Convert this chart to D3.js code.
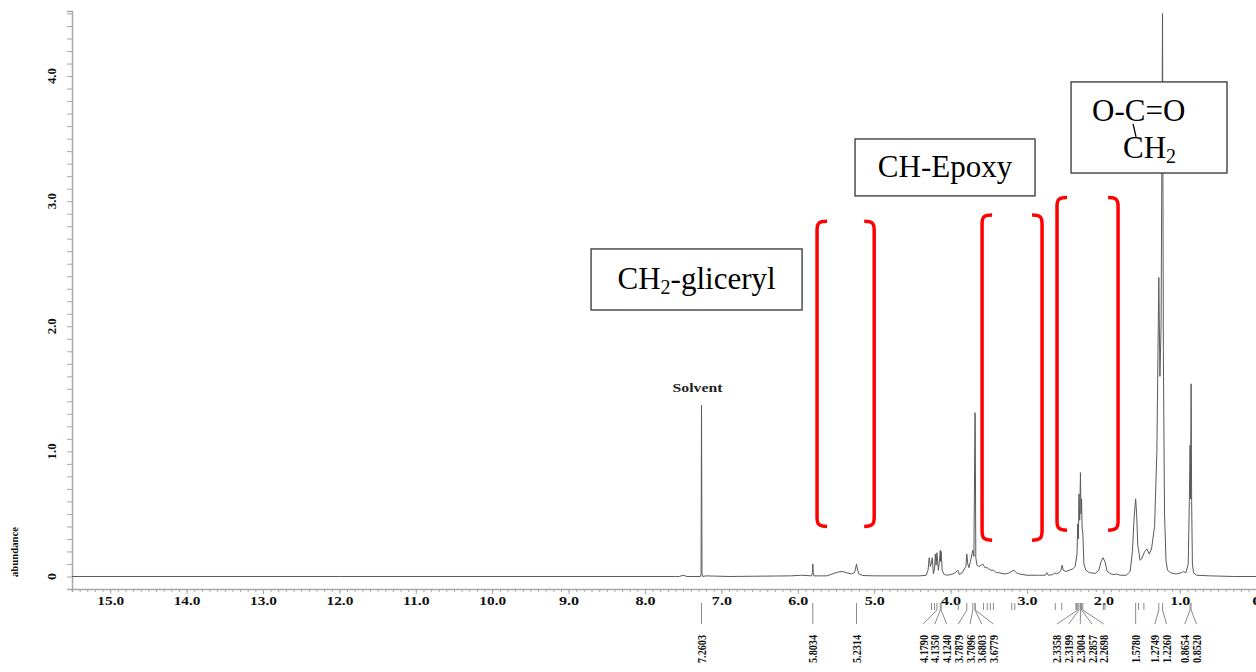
<!DOCTYPE html>
<html>
<head>
<meta charset="utf-8">
<script src="https://cdn.jsdelivr.net/npm/d3@7"></script>
<style>
  body { margin: 0; background: #fff; }
  svg { display: block; }
  text { font-family: "Liberation Serif", "Times New Roman", serif; }
</style>
</head>
<body>
<svg id="chart" width="1256" height="672"></svg>
<script>
// 1H NMR spectrum trace: chemical shift (ppm) and abundance
const spectrumPpm = [
  15.50, 12.00, 7.60, 7.55, 7.50, 7.45, 7.275, 7.266, 7.2603, 7.254, 7.245, 7.20, 6.90, 6.10, 5.95,
  5.82, 5.808, 5.8034, 5.798, 5.79, 5.62, 5.55, 5.48, 5.42, 5.36, 5.30, 5.26, 5.245, 5.2314, 5.22,
  5.20, 5.15, 5.00, 4.70, 4.40, 4.32, 4.295, 4.28, 4.265, 4.255, 4.24, 4.225, 4.21, 4.20, 4.19,
  4.179, 4.160, 4.147, 4.135, 4.130, 4.124, 4.110, 4.09, 4.05, 4.00, 3.97, 3.94, 3.905, 3.885, 3.85,
  3.80, 3.7879, 3.775, 3.76, 3.74, 3.7096, 3.695, 3.6803, 3.6779, 3.67, 3.655, 3.63, 3.60, 3.58, 3.55,
  3.52, 3.50, 3.47, 3.44, 3.40, 3.36, 3.30, 3.25, 3.20, 3.17, 3.14, 3.10, 3.00, 2.85, 2.76,
  2.74, 2.72, 2.66, 2.64, 2.62, 2.58, 2.555, 2.54, 2.525, 2.49, 2.45, 2.40, 2.37, 2.345, 2.3358,
  2.327, 2.3199, 2.310, 2.3004, 2.293, 2.2857, 2.278, 2.2698, 2.255, 2.23, 2.18, 2.10, 2.06, 2.03, 2.005,
  1.98, 1.95, 1.90, 1.86, 1.83, 1.78, 1.70, 1.65, 1.62, 1.60, 1.578, 1.565, 1.55, 1.52, 1.50,
  1.46, 1.43, 1.40, 1.37, 1.33, 1.30, 1.2749, 1.26, 1.245, 1.226, 1.215, 1.20, 1.18, 1.16, 1.12,
  1.05, 0.98, 0.95, 0.92, 0.89, 0.875, 0.8654, 0.859, 0.852, 0.845, 0.835, 0.82, 0.78, 0.60, 0.30,
  0.00
];
const spectrumAbundance = [
  0.000, 0.000, 0.000, 0.000, 0.010, 0.000, 0.000, 0.020, 1.370, 0.020, 0.000, 0.005, 0.000, 0.005, 0.010,
  0.005, 0.030, 0.100, 0.030, 0.005, 0.005, 0.020, 0.035, 0.040, 0.030, 0.020, 0.030, 0.060, 0.100, 0.060,
  0.020, 0.008, 0.005, 0.005, 0.005, 0.010, 0.050, 0.150, 0.080, 0.100, 0.150, 0.020, 0.060, 0.180, 0.090,
  0.190, 0.050, 0.120, 0.210, 0.120, 0.200, 0.050, 0.020, 0.010, 0.015, 0.020, 0.030, 0.050, 0.015, 0.030,
  0.080, 0.180, 0.100, 0.070, 0.120, 0.210, 0.160, 1.310, 1.250, 0.150, 0.090, 0.080, 0.090, 0.100, 0.070,
  0.070, 0.060, 0.050, 0.050, 0.030, 0.030, 0.020, 0.025, 0.040, 0.050, 0.030, 0.020, 0.010, 0.010, 0.010,
  0.030, 0.010, 0.015, 0.030, 0.020, 0.030, 0.050, 0.090, 0.050, 0.040, 0.050, 0.060, 0.080, 0.180, 0.420,
  0.300, 0.660, 0.450, 0.830, 0.500, 0.620, 0.380, 0.350, 0.100, 0.050, 0.030, 0.025, 0.050, 0.120, 0.150,
  0.120, 0.040, 0.020, 0.015, 0.020, 0.010, 0.010, 0.040, 0.200, 0.450, 0.620, 0.500, 0.250, 0.130, 0.140,
  0.200, 0.220, 0.180, 0.220, 0.400, 1.000, 2.390, 1.600, 2.000, 4.500, 1.800, 0.500, 0.120, 0.050, 0.030,
  0.020, 0.030, 0.040, 0.030, 0.100, 0.600, 1.050, 0.620, 1.540, 0.600, 0.100, 0.030, 0.010, 0.005, 0.000,
  0.000
];

// axis labels
const xTickValues = [15, 14, 13, 12, 11, 10, 9, 8, 7, 6, 5, 4, 3, 2, 1, 0];
const xTickLabels = ["15.0", "14.0", "13.0", "12.0", "11.0", "10.0", "9.0", "8.0", "7.0", "6.0", "5.0", "4.0", "3.0", "2.0", "1.0", "0"];
const yTickValues = [0, 1, 2, 3, 4];
const yTickLabels = ["0", "1.0", "2.0", "3.0", "4.0"];

// picked peaks (labelled) and further picked positions without labels
const peakShifts = [7.2603, 5.8034, 5.2314, 4.1790, 4.1350, 4.1240, 3.7879, 3.7096, 3.6803, 3.6779,
  2.3358, 2.3199, 2.3004, 2.2857, 2.2698, 1.5780, 1.2749, 1.2260, 0.8654, 0.8520];
const unlabeledShifts = [4.25, 4.21, 3.90, 3.57, 3.52, 3.48, 3.44, 3.20, 3.16, 2.63, 2.545, 2.36, 2.35, 2.00, 1.98, 1.54, 1.47];

// solvent peak
const solventShift = 7.2603;
const solventHeight = 1.37;

// assignment brackets: shift range (ppm) and abundance span
const bracketShiftFrom = [5.748, 3.588, 2.607];
const bracketShiftTo = [5.000, 2.803, 1.808];
const bracketLow = [0.40, 0.29, 0.37];
const bracketHigh = [2.84, 2.89, 3.03];

// assignment boxes: shift range (ppm) and abundance span
const boxShiftFrom = [8.706, 5.251, 2.4235];
const boxShiftTo = [5.944, 2.895, 0.382];
const boxLow = [2.130, 3.042, 3.225];
const boxHigh = [2.618, 3.497, 3.953];

const W = 1256, H = 672;
const svg = d3.select("#chart");
svg.append("rect").attr("width", W).attr("height", H).attr("fill", "#fff");

const x = d3.scaleLinear().domain([15.5, 0]).range([72, 1256.2]);
const y = d3.scaleLinear().domain([-0.1, 4.52]).range([589, 11]);

const axisColor = "#a8a8a8";

// ---- x axis: minor ticks every 0.1 ppm, labelled ticks every 1 ppm
const minorX = d3.range(0, 155).map(i => +(15.5 - i * 0.1).toFixed(1)).filter(v => v >= 0);
const gx = svg.append("g").attr("transform", `translate(0,${y(-0.1)})`);
gx.call(d3.axisBottom(x).tickValues(minorX).tickSize(3).tickFormat(""))
  .call(g => g.select(".domain").attr("stroke", axisColor).attr("stroke-width", 1.5))
  .call(g => g.selectAll(".tick line").attr("stroke", axisColor));
const gxMajor = svg.append("g").attr("transform", `translate(0,${y(-0.1)})`);
gxMajor.call(d3.axisBottom(x).tickValues(xTickValues).tickSize(5).tickPadding(3)
    .tickFormat((d, i) => xTickLabels[i]))
  .call(g => g.select(".domain").remove())
  .call(g => g.selectAll(".tick line").attr("stroke", axisColor))
  .call(g => g.selectAll(".tick text")
    .attr("fill", "#111").attr("font-size", 11.5).attr("font-weight", "bold")
    .attr("font-family", "Liberation Serif, serif")
    .attr("textLength", (d, i) => xTickLabels[i].length === 1 ? 9 : xTickLabels[i].length * 6.7)
    .attr("lengthAdjust", "spacingAndGlyphs"));

// ---- y axis: minor ticks every 0.1
const minorY = d3.range(0, 46).map(i => +(i * 0.1).toFixed(1));
const gy = svg.append("g").attr("transform", `translate(${x(15.5)},0)`);
gy.call(d3.axisLeft(y).tickValues(minorY).tickSize(5).tickFormat(""))
  .call(g => g.select(".domain").attr("stroke", axisColor).attr("stroke-width", 1.5))
  .call(g => g.selectAll(".tick line").attr("stroke", axisColor));

svg.append("g").selectAll("text").data(yTickValues).join("text")
  .attr("transform", d => `translate(56,${y(d)}) rotate(-90)`)
  .attr("text-anchor", "middle")
  .attr("font-size", 13).attr("font-weight", "bold").attr("fill", "#111")
  .attr("textLength", (d, i) => yTickLabels[i].length === 1 ? 7 : 16)
  .attr("lengthAdjust", "spacingAndGlyphs")
  .text((d, i) => yTickLabels[i]);

svg.append("text")
  .attr("transform", "translate(18,552) rotate(-90)")
  .attr("text-anchor", "middle")
  .attr("font-size", 10).attr("font-weight", "bold").attr("fill", "#111")
  .attr("textLength", 50).attr("lengthAdjust", "spacingAndGlyphs")
  .text("abundance");

// ---- spectrum trace
const spectrum = spectrumPpm.map((p, i) => ({ ppm: p, v: spectrumAbundance[i] }));
svg.append("path")
  .datum(spectrum)
  .attr("fill", "none")
  .attr("stroke", "#5a5a5a")
  .attr("stroke-width", 1)
  .attr("stroke-linejoin", "round")
  .attr("d", d3.line().x(d => x(d.ppm)).y(d => y(d.v)));

// ---- solvent label
svg.append("text")
  .attr("x", x(solventShift) - 4)
  .attr("y", y(solventHeight) - 13)
  .attr("text-anchor", "middle")
  .attr("font-size", 11.5).attr("font-weight", "bold").attr("fill", "#222")
  .attr("textLength", 50).attr("lengthAdjust", "spacingAndGlyphs")
  .text("Solvent");

// ---- peak picking marks and labels
const markTop = 603, markBottom = 610, leaderEnd = 624, labelBase = 663;
const gap = 11.7;

// spread labels so neighbours keep at least `gap` px apart, clusters centred on their peaks
function spreadLabels(xs) {
  let clusters = xs.map((v, i) => ({ members: [i] }));
  const centre = c => d3.mean(c.members, i => xs[i]);
  let merged = true;
  while (merged) {
    merged = false;
    for (let i = 0; i < clusters.length - 1; i++) {
      const a = clusters[i], b = clusters[i + 1];
      const aEnd = centre(a) + (a.members.length - 1) * gap / 2;
      const bStart = centre(b) - (b.members.length - 1) * gap / 2;
      if (bStart - aEnd < gap) {
        clusters.splice(i, 2, { members: a.members.concat(b.members) });
        merged = true;
        break;
      }
    }
  }
  const out = [];
  clusters.forEach(c => {
    const m = centre(c), n = c.members.length;
    c.members.forEach((idx, k) => { out[idx] = m + (k - (n - 1) / 2) * gap; });
  });
  return out;
}

const peakX = peakShifts.map(p => x(p));
const labelX = spreadLabels(peakX);
const marks = svg.append("g").attr("stroke", "#8a8a8a").attr("stroke-width", 1);

marks.selectAll("line.unl").data(unlabeledShifts).join("line")
  .attr("class", "unl")
  .attr("x1", d => x(d)).attr("x2", d => x(d))
  .attr("y1", markTop).attr("y2", markBottom);

marks.selectAll("line.pk").data(peakShifts).join("line")
  .attr("class", "pk")
  .attr("x1", d => x(d)).attr("x2", d => x(d))
  .attr("y1", markTop).attr("y2", markBottom);

marks.selectAll("line.lead").data(peakShifts).join("line")
  .attr("class", "lead")
  .attr("x1", d => x(d)).attr("y1", markBottom)
  .attr("x2", (d, i) => labelX[i]).attr("y2", leaderEnd);

svg.append("g").selectAll("text").data(peakShifts).join("text")
  .attr("transform", (d, i) => `translate(${labelX[i] + 4.5},${labelBase}) rotate(-90)`)
  .attr("text-anchor", "start")
  .attr("font-size", 13).attr("font-weight", "bold").attr("fill", "#111")
  .attr("textLength", 28).attr("lengthAdjust", "spacingAndGlyphs")
  .text(d => d.toFixed(4));

// ---- red assignment brackets
const hook = 10;
function bracketPath(xs, top, bot, dir) {
  // dir = +1 for an opening bracket, -1 for a closing one
  const e = xs + dir * hook;
  return `M${e},${top} C${xs + dir * 2},${top} ${xs},${top + 2} ${xs},${top + 9}` +
         ` L${xs},${bot - 9} C${xs},${bot - 2} ${xs + dir * 2},${bot} ${e},${bot}`;
}
const brackets = svg.append("g").attr("fill", "none").attr("stroke", "#ff0000").attr("stroke-width", 3.5);
bracketShiftFrom.forEach((from, i) => {
  const top = y(bracketHigh[i]), bot = y(bracketLow[i]);
  brackets.append("path").attr("d", bracketPath(x(from), top, bot, 1));
  brackets.append("path").attr("d", bracketPath(x(bracketShiftTo[i]), top, bot, -1));
});

// ---- assignment boxes
const boxes = svg.append("g");
const boxRect = i => ({
  x0: x(boxShiftFrom[i]), x1: x(boxShiftTo[i]),
  y0: y(boxHigh[i]), y1: y(boxLow[i])
});
boxShiftFrom.forEach((d, i) => {
  const r = boxRect(i);
  boxes.append("rect")
    .attr("x", r.x0).attr("y", r.y0)
    .attr("width", r.x1 - r.x0).attr("height", r.y1 - r.y0)
    .attr("fill", "#fff").attr("stroke", "#333").attr("stroke-width", 1.3);
});

const bigFont = 31, subFont = 20;

// CH2-gliceryl
{
  const r = boxRect(0);
  const t = boxes.append("text")
    .attr("x", (r.x0 + r.x1) / 2).attr("y", (r.y0 + r.y1) / 2 + 10)
    .attr("text-anchor", "middle").attr("font-size", bigFont).attr("fill", "#000");
  t.append("tspan").text("CH");
  t.append("tspan").attr("font-size", subFont).attr("dy", 5).text("2");
  t.append("tspan").attr("dy", -5).text("-gliceryl");
}
// CH-Epoxy
{
  const r = boxRect(1);
  boxes.append("text")
    .attr("x", (r.x0 + r.x1) / 2).attr("y", (r.y0 + r.y1) / 2 + 10)
    .attr("text-anchor", "middle").attr("font-size", bigFont).attr("fill", "#000")
    .text("CH-Epoxy");
}
// ester carbonyl with alpha CH2
{
  const r = boxRect(2);
  boxes.append("text")
    .attr("x", r.x0 + 21).attr("y", r.y0 + 39)
    .attr("font-size", bigFont).attr("fill", "#000")
    .text("O-C=O");
  const t = boxes.append("text")
    .attr("x", r.x0 + 52).attr("y", r.y0 + 76)
    .attr("font-size", bigFont).attr("fill", "#000");
  t.append("tspan").text("CH");
  t.append("tspan").attr("font-size", subFont).attr("dy", 5).text("2");
  boxes.append("line")
    .attr("x1", r.x0 + 62).attr("y1", r.y0 + 42)
    .attr("x2", r.x0 + 65).attr("y2", r.y0 + 55)
    .attr("stroke", "#000").attr("stroke-width", 1.3);
}
</script>
</body>
</html>
